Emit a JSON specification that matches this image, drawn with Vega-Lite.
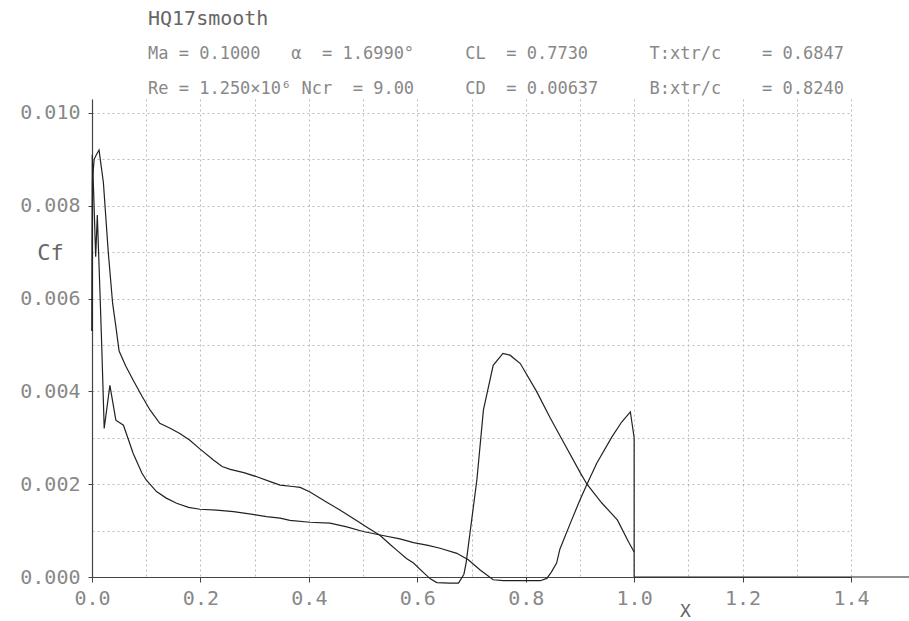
{
  "$schema": "https://vega.github.io/schema/vega-lite/v6.json",
  "width": 759,
  "height": 478,
  "autosize": {"type": "none"},
  "padding": {"left": 92, "top": 99, "right": 58, "bottom": 44},
  "background": "white",
  "config": {
    "view": {"stroke": null},
    "font": "DejaVu Sans Mono"
  },
  "title": {
    "text": "HQ17smooth",
    "subtitle": [
      "Ma = 0.1000\u00a0\u00a0\u00a0α\u00a0\u00a0= 1.6990°\u00a0\u00a0\u00a0\u00a0\u00a0CL\u00a0\u00a0= 0.7730\u00a0\u00a0\u00a0\u00a0\u00a0\u00a0T:xtr/c\u00a0\u00a0\u00a0\u00a0= 0.6847",
      "Re = 1.250×10⁶\u00a0Ncr\u00a0\u00a0= 9.00\u00a0\u00a0\u00a0\u00a0\u00a0CD\u00a0\u00a0= 0.00637\u00a0\u00a0\u00a0\u00a0\u00a0B:xtr/c\u00a0\u00a0\u00a0\u00a0= 0.8240"
    ],
    "anchor": "start",
    "frame": "group",
    "dx": 56,
    "offset": 2,
    "font": "DejaVu Sans Mono",
    "fontSize": 20,
    "fontWeight": "normal",
    "color": "#666666",
    "subtitleFont": "DejaVu Sans Mono",
    "subtitleFontSize": 17,
    "subtitleColor": "#888888",
    "subtitleLineHeight": 35,
    "subtitlePadding": 17
  },
  "data": {
    "values": [
      {"s": "top", "i": 0, "x": 0.0, "cf": 0.0053},
      {"s": "top", "i": 1, "x": 0.001, "cf": 0.0086},
      {"s": "top", "i": 2, "x": 0.004, "cf": 0.0090},
      {"s": "top", "i": 3, "x": 0.008, "cf": 0.0091},
      {"s": "top", "i": 4, "x": 0.013, "cf": 0.0092},
      {"s": "top", "i": 5, "x": 0.021, "cf": 0.0085},
      {"s": "top", "i": 6, "x": 0.030, "cf": 0.0070},
      {"s": "top", "i": 7, "x": 0.038, "cf": 0.0059},
      {"s": "top", "i": 8, "x": 0.044, "cf": 0.0054},
      {"s": "top", "i": 9, "x": 0.050, "cf": 0.00487},
      {"s": "top", "i": 10, "x": 0.062, "cf": 0.00455},
      {"s": "top", "i": 11, "x": 0.076, "cf": 0.00424},
      {"s": "top", "i": 12, "x": 0.092, "cf": 0.0039},
      {"s": "top", "i": 13, "x": 0.107, "cf": 0.0036},
      {"s": "top", "i": 14, "x": 0.125, "cf": 0.00331},
      {"s": "top", "i": 15, "x": 0.145, "cf": 0.0032},
      {"s": "top", "i": 16, "x": 0.162, "cf": 0.00309},
      {"s": "top", "i": 17, "x": 0.180, "cf": 0.00295},
      {"s": "top", "i": 18, "x": 0.200, "cf": 0.00275},
      {"s": "top", "i": 19, "x": 0.224, "cf": 0.00252},
      {"s": "top", "i": 20, "x": 0.240, "cf": 0.00238},
      {"s": "top", "i": 21, "x": 0.255, "cf": 0.00232},
      {"s": "top", "i": 22, "x": 0.280, "cf": 0.00225},
      {"s": "top", "i": 23, "x": 0.304, "cf": 0.00216},
      {"s": "top", "i": 24, "x": 0.330, "cf": 0.00205},
      {"s": "top", "i": 25, "x": 0.347, "cf": 0.00198},
      {"s": "top", "i": 26, "x": 0.370, "cf": 0.00195},
      {"s": "top", "i": 27, "x": 0.384, "cf": 0.00193},
      {"s": "top", "i": 28, "x": 0.402, "cf": 0.00183},
      {"s": "top", "i": 29, "x": 0.430, "cf": 0.00163},
      {"s": "top", "i": 30, "x": 0.458, "cf": 0.00144},
      {"s": "top", "i": 31, "x": 0.490, "cf": 0.0012},
      {"s": "top", "i": 32, "x": 0.510, "cf": 0.00105},
      {"s": "top", "i": 33, "x": 0.531, "cf": 0.0009},
      {"s": "top", "i": 34, "x": 0.550, "cf": 0.0007},
      {"s": "top", "i": 35, "x": 0.562, "cf": 0.00058},
      {"s": "top", "i": 36, "x": 0.580, "cf": 0.0004},
      {"s": "top", "i": 37, "x": 0.593, "cf": 0.0003},
      {"s": "top", "i": 38, "x": 0.610, "cf": 0.00011},
      {"s": "top", "i": 39, "x": 0.624, "cf": -0.00004},
      {"s": "top", "i": 40, "x": 0.636, "cf": -0.00012},
      {"s": "top", "i": 41, "x": 0.660, "cf": -0.00013},
      {"s": "top", "i": 42, "x": 0.676, "cf": -0.00013},
      {"s": "top", "i": 43, "x": 0.686, "cf": 0.00006},
      {"s": "top", "i": 44, "x": 0.690, "cf": 0.0003},
      {"s": "top", "i": 45, "x": 0.700, "cf": 0.0012},
      {"s": "top", "i": 46, "x": 0.710, "cf": 0.0021},
      {"s": "top", "i": 47, "x": 0.722, "cf": 0.0036},
      {"s": "top", "i": 48, "x": 0.740, "cf": 0.00456},
      {"s": "top", "i": 49, "x": 0.758, "cf": 0.00482},
      {"s": "top", "i": 50, "x": 0.771, "cf": 0.00478},
      {"s": "top", "i": 51, "x": 0.790, "cf": 0.0046},
      {"s": "top", "i": 52, "x": 0.820, "cf": 0.0040},
      {"s": "top", "i": 53, "x": 0.845, "cf": 0.00343},
      {"s": "top", "i": 54, "x": 0.870, "cf": 0.0029},
      {"s": "top", "i": 55, "x": 0.900, "cf": 0.00226},
      {"s": "top", "i": 56, "x": 0.913, "cf": 0.0020},
      {"s": "top", "i": 57, "x": 0.940, "cf": 0.0016},
      {"s": "top", "i": 58, "x": 0.969, "cf": 0.00123},
      {"s": "top", "i": 59, "x": 0.990, "cf": 0.00075},
      {"s": "top", "i": 60, "x": 1.000, "cf": 0.00054},
      {"s": "bot", "i": 0, "x": 0.0, "cf": 0.0053},
      {"s": "bot", "i": 1, "x": 0.0005, "cf": 0.0091},
      {"s": "bot", "i": 2, "x": 0.003, "cf": 0.0083},
      {"s": "bot", "i": 3, "x": 0.0068, "cf": 0.0069},
      {"s": "bot", "i": 4, "x": 0.0098, "cf": 0.0078},
      {"s": "bot", "i": 5, "x": 0.0148, "cf": 0.0061},
      {"s": "bot", "i": 6, "x": 0.018, "cf": 0.00496},
      {"s": "bot", "i": 7, "x": 0.0225, "cf": 0.0032},
      {"s": "bot", "i": 8, "x": 0.033, "cf": 0.00413},
      {"s": "bot", "i": 9, "x": 0.044, "cf": 0.00338},
      {"s": "bot", "i": 10, "x": 0.058, "cf": 0.00327},
      {"s": "bot", "i": 11, "x": 0.066, "cf": 0.0030},
      {"s": "bot", "i": 12, "x": 0.076, "cf": 0.00266},
      {"s": "bot", "i": 13, "x": 0.092, "cf": 0.00224},
      {"s": "bot", "i": 14, "x": 0.100, "cf": 0.00209},
      {"s": "bot", "i": 15, "x": 0.119, "cf": 0.00184},
      {"s": "bot", "i": 16, "x": 0.137, "cf": 0.0017},
      {"s": "bot", "i": 17, "x": 0.156, "cf": 0.00159},
      {"s": "bot", "i": 18, "x": 0.178, "cf": 0.0015},
      {"s": "bot", "i": 19, "x": 0.199, "cf": 0.00146},
      {"s": "bot", "i": 20, "x": 0.230, "cf": 0.00144},
      {"s": "bot", "i": 21, "x": 0.261, "cf": 0.00141},
      {"s": "bot", "i": 22, "x": 0.290, "cf": 0.00136},
      {"s": "bot", "i": 23, "x": 0.322, "cf": 0.0013},
      {"s": "bot", "i": 24, "x": 0.347, "cf": 0.00127},
      {"s": "bot", "i": 25, "x": 0.365, "cf": 0.00122},
      {"s": "bot", "i": 26, "x": 0.402, "cf": 0.00118},
      {"s": "bot", "i": 27, "x": 0.439, "cf": 0.00116},
      {"s": "bot", "i": 28, "x": 0.470, "cf": 0.00108},
      {"s": "bot", "i": 29, "x": 0.500, "cf": 0.00098},
      {"s": "bot", "i": 30, "x": 0.534, "cf": 0.0009},
      {"s": "bot", "i": 31, "x": 0.568, "cf": 0.00082},
      {"s": "bot", "i": 32, "x": 0.593, "cf": 0.00074},
      {"s": "bot", "i": 33, "x": 0.620, "cf": 0.00068},
      {"s": "bot", "i": 34, "x": 0.642, "cf": 0.00062},
      {"s": "bot", "i": 35, "x": 0.673, "cf": 0.00051},
      {"s": "bot", "i": 36, "x": 0.694, "cf": 0.00037},
      {"s": "bot", "i": 37, "x": 0.716, "cf": 0.00015},
      {"s": "bot", "i": 38, "x": 0.740, "cf": -0.00006},
      {"s": "bot", "i": 39, "x": 0.759, "cf": -0.00008},
      {"s": "bot", "i": 40, "x": 0.800, "cf": -0.00008},
      {"s": "bot", "i": 41, "x": 0.827, "cf": -0.00008},
      {"s": "bot", "i": 42, "x": 0.839, "cf": -0.00003},
      {"s": "bot", "i": 43, "x": 0.847, "cf": 0.0001},
      {"s": "bot", "i": 44, "x": 0.857, "cf": 0.0003},
      {"s": "bot", "i": 45, "x": 0.863, "cf": 0.0006},
      {"s": "bot", "i": 46, "x": 0.882, "cf": 0.00115},
      {"s": "bot", "i": 47, "x": 0.900, "cf": 0.00166},
      {"s": "bot", "i": 48, "x": 0.913, "cf": 0.0020},
      {"s": "bot", "i": 49, "x": 0.931, "cf": 0.00245},
      {"s": "bot", "i": 50, "x": 0.959, "cf": 0.00302},
      {"s": "bot", "i": 51, "x": 0.977, "cf": 0.00334},
      {"s": "bot", "i": 52, "x": 0.993, "cf": 0.00356},
      {"s": "bot", "i": 53, "x": 1.000, "cf": 0.0030},
      {"s": "bot", "i": 54, "x": 1.000, "cf": 0.0},
      {"s": "wake", "i": 0, "x": 1.000, "cf": 0.0},
      {"s": "wake", "i": 1, "x": 1.510, "cf": 0.0}
    ]
  },
  "mark": {"type": "line", "color": "#222222", "strokeWidth": 1.2, "clip": false},
  "encoding": {
    "x": {
      "field": "x",
      "type": "quantitative",
      "scale": {"domain": [0, 1.4], "nice": false, "zero": false},
      "axis": {
        "values": [0, 0.1, 0.2, 0.3, 0.4, 0.5, 0.6, 0.7, 0.8, 0.9, 1.0, 1.1, 1.2, 1.3, 1.4],
        "labelExpr": "round(datum.value*10) % 2 == 0 ? format(datum.value, '.1f') : ''",
        "grid": true,
        "gridColor": "#bbbbbb",
        "gridDash": [2, 3],
        "gridWidth": 1,
        "domainColor": "#444444",
        "domainWidth": 1.2,
        "tickColor": "#444444",
        "tickSize": 5,
        "tickOpacity": {"condition": {"test": "round(datum.value*10) % 2 == 0", "value": 1}, "value": 0},
        "labelFont": "DejaVu Sans Mono",
        "labelFontSize": 20,
        "labelColor": "#888888",
        "labelPadding": 6,
        "labelFlush": false,
        "labelOverlap": false,
        "title": "X",
        "titleFont": "DejaVu Sans Mono",
        "titleFontSize": 18,
        "titleFontWeight": "normal",
        "titleColor": "#666666",
        "titleX": 593,
        "titleY": 34,
        "titleAlign": "center",
        "titleBaseline": "middle"
      }
    },
    "y": {
      "field": "cf",
      "type": "quantitative",
      "scale": {"domain": [0, 0.0103], "nice": false, "zero": false},
      "axis": {
        "values": [0, 0.001, 0.002, 0.003, 0.004, 0.005, 0.006, 0.007, 0.008, 0.009, 0.010],
        "labelExpr": "round(datum.value*1000) % 2 == 0 ? format(datum.value, '.3f') : ''",
        "grid": true,
        "gridColor": "#bbbbbb",
        "gridDash": [2, 3],
        "gridWidth": 1,
        "domainColor": "#444444",
        "domainWidth": 1.2,
        "tickColor": "#444444",
        "tickSize": 4,
        "tickOpacity": {"condition": {"test": "round(datum.value*1000) % 2 == 0", "value": 1}, "value": 0},
        "labelFont": "DejaVu Sans Mono",
        "labelFontSize": 20,
        "labelColor": "#888888",
        "labelPadding": 8,
        "labelFlush": false,
        "labelOverlap": false,
        "title": "Cf",
        "titleFont": "DejaVu Sans Mono",
        "titleFontSize": 22,
        "titleFontWeight": "normal",
        "titleColor": "#666666",
        "titleAngle": 0,
        "titleX": -42,
        "titleY": 153,
        "titleAlign": "center",
        "titleBaseline": "middle"
      }
    },
    "detail": {"field": "s", "type": "nominal"},
    "order": {"field": "i", "type": "quantitative"}
  }
}
